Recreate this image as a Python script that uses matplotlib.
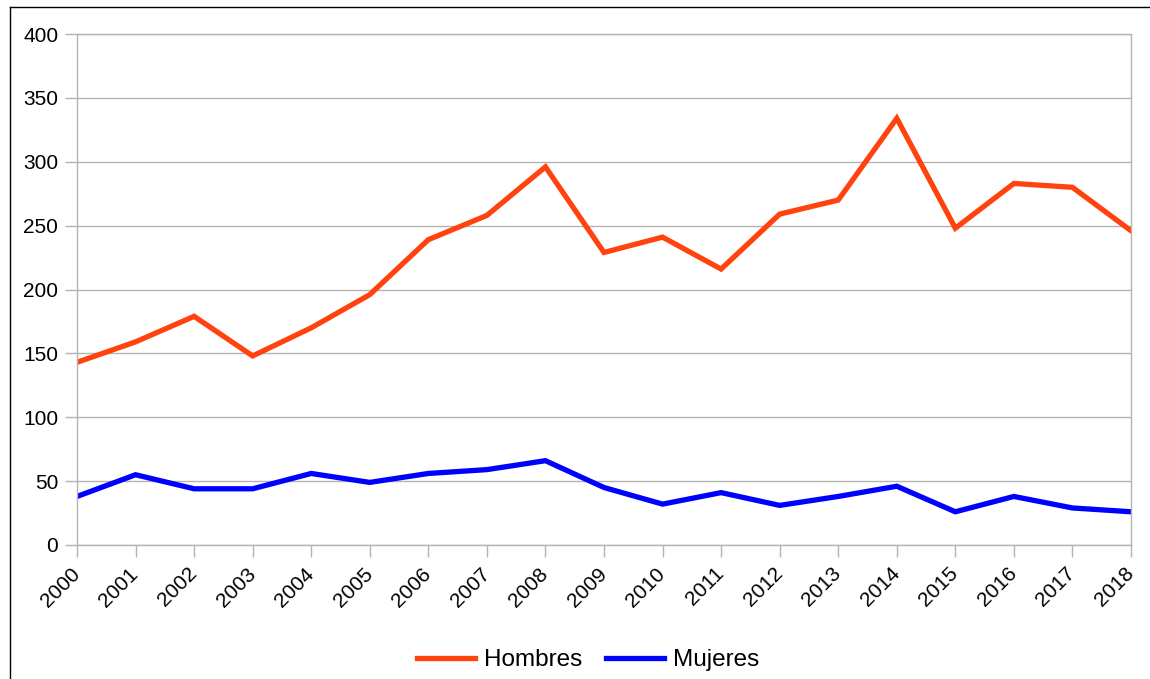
import numpy as np
import matplotlib.pyplot as plt
from matplotlib.lines import Line2D

plt.rcParams['font.family'] = ['Liberation Sans', 'DejaVu Sans']

years = [str(y) for y in range(2000, 2019)]
hombres = [143, 159, 179, 148, 170, 196, 239, 258, 296, 229, 241, 216, 259, 270, 334, 248, 283, 280, 246]
mujeres = [38, 55, 44, 44, 56, 49, 56, 59, 66, 45, 32, 41, 31, 38, 46, 26, 38, 29, 26]

W, H = 1150, 679
fig = plt.figure(figsize=(W / 100, H / 100), dpi=100)
ax = fig.add_axes([77 / W, 1 - 545 / H, (1131 - 77) / W, (545 - 34) / H])

x = np.arange(len(years))
ax.plot(x, hombres, color='#ff420e', linewidth=3.8, label='Hombres', solid_joinstyle='miter')
ax.plot(x, mujeres, color='#0000ff', linewidth=3.8, label='Mujeres', solid_joinstyle='miter')

ax.set_xlim(0, len(years) - 1)
ax.set_ylim(0, 400)
ax.set_yticks(range(0, 401, 50))
ax.set_xticks(x)
ax.set_xticklabels(years, rotation=45, ha='right', va='center', rotation_mode='anchor')

# only horizontal grid lines, like the original
ax.grid(True, axis='y', color='#b3b3b3', linewidth=1)
ax.set_axisbelow(True)
for s in ax.spines.values():
    s.set_color('#b3b3b3')
    s.set_linewidth(1)
ax.tick_params(axis='both', colors='#b3b3b3', labelcolor='black', labelsize=15, length=8.5, width=1)
ax.tick_params(axis='y', pad=5)
ax.tick_params(axis='x', pad=10)

leg = fig.legend(loc='center', bbox_to_anchor=(588 / W, 1 - 660 / H), ncol=2, frameon=False,
                 fontsize=17.5, handlelength=2.4, handletextpad=0.35, columnspacing=1.0)

# outer frame (left and top edges visible)
fig.add_artist(Line2D([10 / W, 10 / W], [0, 1 - 7 / H], transform=fig.transFigure, color='black', linewidth=1))
fig.add_artist(Line2D([10 / W, 1], [1 - 7 / H, 1 - 7 / H], transform=fig.transFigure, color='black', linewidth=1))

fig.savefig('out.png', dpi=100)
